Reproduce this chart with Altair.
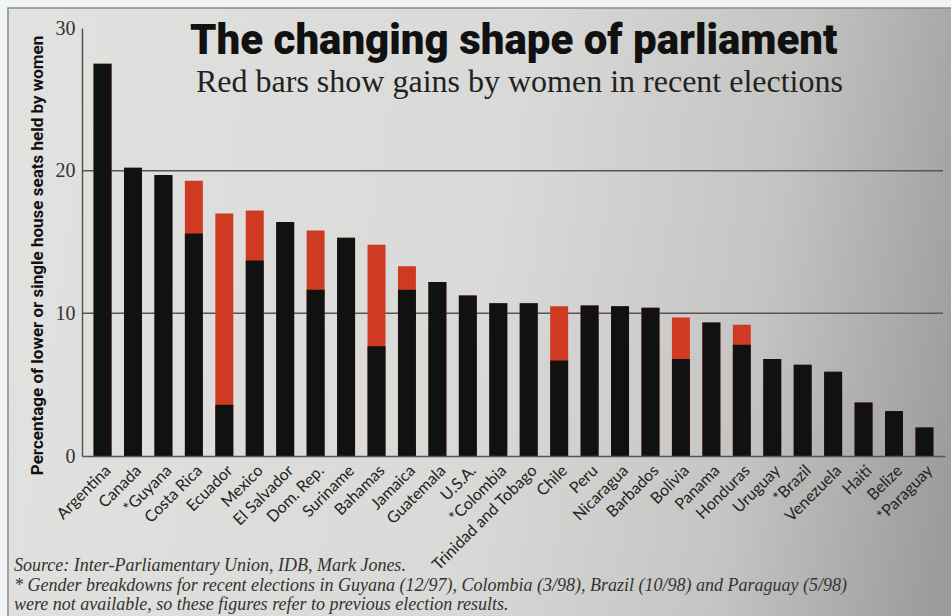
import altair as alt
import pandas as pd

countries = ["Argentina", "Canada", "*Guyana", "Costa Rica", "Ecuador", "Mexico",
             "El Salvador", "Dom. Rep.", "Suriname", "Bahamas", "Jamaica", "Guatemala",
             "U.S.A.", "*Colombia", "Trinidad and Tobago", "Chile", "Peru", "Nicaragua",
             "Barbados", "Bolivia", "Panama", "Honduras", "Uruguay", "*Brazil",
             "Venezuela", "Haiti", "Belize", "*Paraguay"]
# share of seats after the most recent election (top of bar)
after_share = [27.5, 20.2, 19.7, 19.3, 17.0, 17.2, 16.4, 15.8, 15.3, 14.8, 13.3, 12.2,
               11.25, 10.7, 10.7, 10.5, 10.55, 10.5, 10.4, 9.7, 9.35, 9.2, 6.8, 6.4,
               5.9, 3.75, 3.15, 2.0]
# share before (black part); equals after_share when there was no gain
before_share = [27.5, 20.2, 19.7, 15.6, 3.6, 13.7, 16.4, 11.65, 15.3, 7.7, 11.65, 12.2,
                11.25, 10.7, 10.7, 6.7, 10.55, 10.5, 10.4, 6.8, 9.35, 7.8, 6.8, 6.4,
                5.9, 3.75, 3.15, 2.0]
grid_values = [10, 20]
y_ticks = [0, 10, 20, 30]

title_text = "The changing shape of parliament"
subtitle_text = "Red bars show gains by women in recent elections"
y_title = "Percentage of lower or single house seats held by women"
notes = [
    "Source: Inter-Parliamentary Union, IDB, Mark Jones.",
    "* Gender breakdowns for recent elections in Guyana (12/97), Colombia (3/98), Brazil (10/98) and Paraguay (5/98)",
    "were not available, so these figures refer to previous election results.",
]

W, H = 863, 428

df = pd.DataFrame({"country": countries, "after": after_share, "before": before_share})
grid_df = pd.DataFrame({"v": grid_values})
one = pd.DataFrame({"a": [0]})

y_scale = alt.Scale(domain=[0, 30], nice=False, zero=True)
x_scale = alt.Scale(paddingInner=0.41, paddingOuter=0.38)

x_axis = alt.Axis(labelAngle=-45, labelFont="Lato", labelFontSize=16,
                  labelColor="#222222", ticks=False, domainColor="#555555",
                  domainWidth=1.5, labelPadding=6, labelOverlap=False, zindex=2)
y_axis = alt.Axis(values=y_ticks, title=y_title, grid=False, ticks=False,
                  domainColor="#555555", domainWidth=1.5,
                  labelFont="Liberation Serif", labelFontSize=20,
                  labelColor="#333333", labelPadding=7,
                  titleFont="Roboto", titleFontSize=17,
                  titleFontWeight="bold", titleColor="#111111",
                  titlePadding=9, titleY=227, zindex=2)

frame = alt.Chart(one).mark_rect(
    fill=alt.LinearGradient(
        gradient="linear",
        stops=[alt.GradientStop(color="#e1e1df", offset=0),
               alt.GradientStop(color="#d9d9d7", offset=0.5),
               alt.GradientStop(color="#c4c4c3", offset=0.78),
               alt.GradientStop(color="#9c9c9c", offset=1)],
        x1=0, y1=0.45, x2=1, y2=0.55),
    stroke="#8a8a8a", strokeWidth=1.5,
).encode(x=alt.value(-74), x2=alt.value(W + 20), y=alt.value(-20), y2=alt.value(H + 200))

grid = alt.Chart(grid_df).mark_rule(color="#555555", strokeWidth=1.5).encode(
    y=alt.Y("v:Q", scale=y_scale, axis=y_axis),
    x=alt.value(0), x2=alt.value(W - 2),
)

red = alt.Chart(df).mark_bar(color="#cf3b22").encode(
    x=alt.X("country:N", sort=countries, title=None, scale=x_scale, axis=x_axis),
    y=alt.Y("after:Q", scale=y_scale, axis=y_axis),
)

black = alt.Chart(df).mark_bar(color="#111111").encode(
    x=alt.X("country:N", sort=countries, title=None, scale=x_scale, axis=x_axis),
    y=alt.Y("before:Q", scale=y_scale, axis=y_axis),
)

title = alt.Chart(one).mark_text(
    text=title_text, font="Roboto", fontSize=42, fontWeight=900,
    align="left", baseline="alphabetic", color="#111111",
).encode(x=alt.value(108), y=alt.value(26))

subtitle = alt.Chart(one).mark_text(
    text=subtitle_text, font="Liberation Serif", fontSize=32,
    align="left", baseline="alphabetic", color="#222222",
).encode(x=alt.value(114), y=alt.value(64))

note_layers = []
for i, t in enumerate(notes):
    note_layers.append(
        alt.Chart(one).mark_text(
            text=t, font="Liberation Serif", fontSize=18, fontStyle="italic",
            align="left", baseline="middle", color="#333333",
        ).encode(x=alt.value(-68), y=alt.value(538 + 19.5 * i))
    )

chart = alt.layer(frame, grid, red, black, title, subtitle, *note_layers).properties(
    width=W, height=H,
    autosize=alt.AutoSizeParams(type="none"),
    padding={"left": 82, "top": 28, "right": 6, "bottom": 160},
).configure(background="#f1f4f4").configure_view(stroke=None)

chart.save("out.html", embed_options={"renderer": "svg", "actions": False})
